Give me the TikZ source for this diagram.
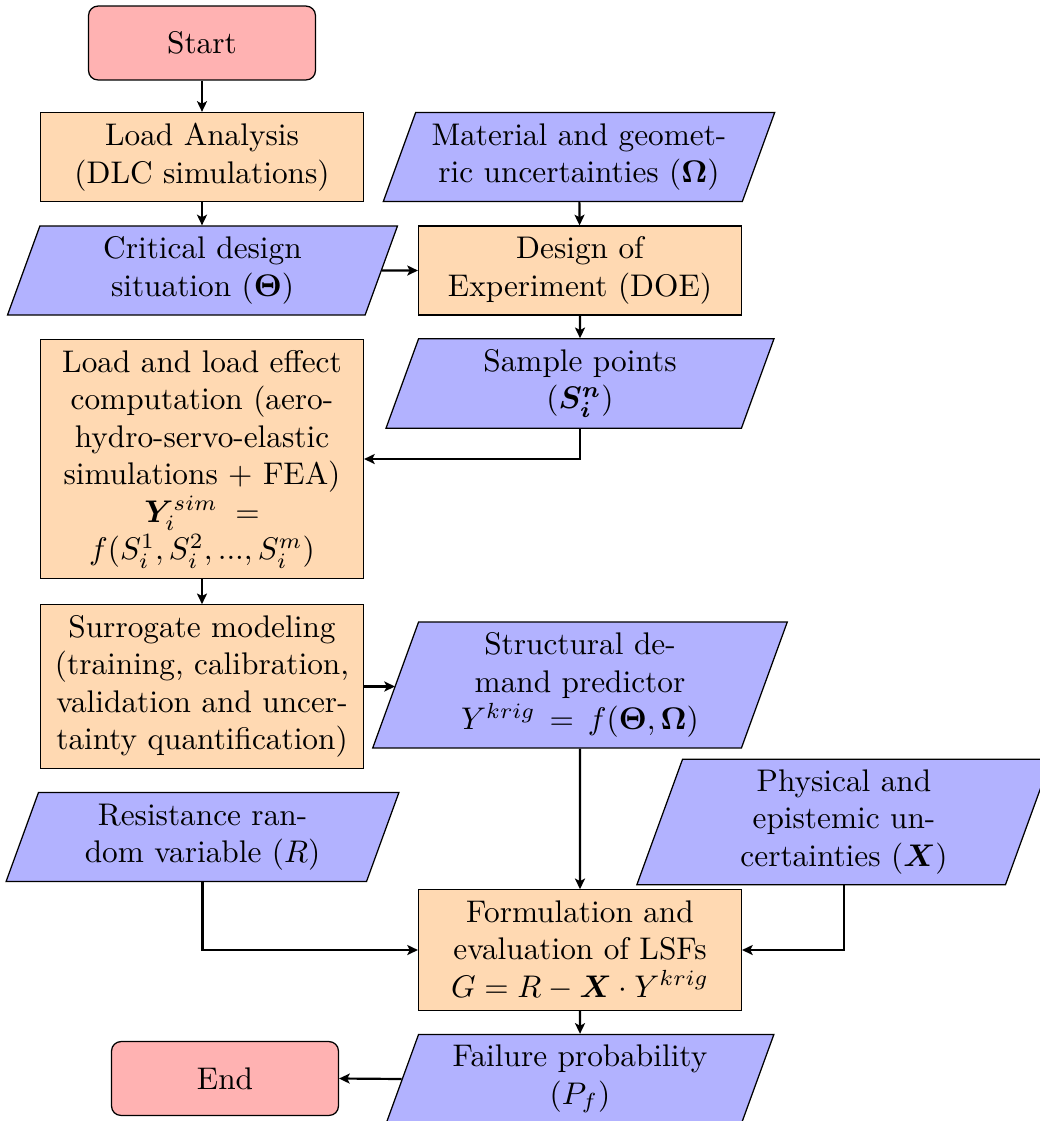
\documentclass[tikz,border=0pt]{standalone}
\usepackage{amsmath,bm}
\usetikzlibrary{shapes.geometric,arrows.meta}
\begin{document}
\begin{tikzpicture}[x=0.3195pt,y=-0.3195pt,
  startstop/.style={rectangle, rounded corners=3pt, minimum width=72.5pt, minimum height=23.6pt, align=center, draw=black, fill=red!30},
  process/.style={rectangle, minimum height=1cm, text width=96.5pt, align=center, draw=black, fill=orange!30},
  io/.style={trapezium, trapezium left angle=70, trapezium right angle=110, minimum height=1cm, text width=96.5pt, align=center, draw=black, fill=blue!30},
  arrow/.style={line width=0.7pt, -{Stealth[length=3.4pt,width=3.2pt,inset=0.8pt]}}]
\useasboundingbox (0,0) rectangle (1040,1121);
\clip (0,0) rectangle (1040,1121);

\node[startstop] (start) at (202,43) {Start};
\node[process] (load) at (202,157) {Load Analysis\\(DLC simulations)};
\node[io] (material) at (579,157) {Material and geomet-\\ric uncertainties ($\bm{\Omega}$)};
\node[io] (critical) at (202.5,270.5) {Critical design\\situation ($\bm{\Theta}$)};
\node[process] (doe) at (580,270.5) {Design of\\Experiment (DOE)};
\node[io] (sample) at (580,383.5) {Sample points\\($\bm{S_i^n}$)};
\node[process] (loadeffect) at (202,459) {Load and load effect\\computation (aero-\\hydro-servo-elastic\\simulations + FEA)\\\mbox{$\bm{Y}_i^{sim}\;=$}\\\mbox{$f(S_i^1,S_i^2,...,S_i^m)$}};
\node[process] (surrogate) at (202,686.5) {Surrogate modeling\\(training, calibration,\\validation and uncer-\\tainty quantification)};
\node[io] (structural) at (580,685) {Structural de-\\mand predictor\\\mbox{$Y^{krig}\,=\,f(\bm{\Theta},\bm{\Omega})$}};
\node[io] (physical) at (844,822) {Physical and\\epistemic un-\\certainties ($\bm{X}$)};
\node[io] (resistance) at (202.5,837) {Resistance ran-\\dom variable ($R$)};
\node[process] (formulation) at (580,950) {Formulation and\\evaluation of LSFs\\\mbox{$G=R-\bm{X}\cdot Y^{krig}$}};
\node[io] (failure) at (580,1079) {Failure probability\\($P_f$)};
\node[startstop] (end) at (225,1078.5) {End};

\draw[arrow] (start) -- (load);
\draw[arrow] (load) -- (load |- critical.north);
\draw[arrow] (material) -- (doe);
\draw[arrow] (critical.east) -- (doe.west);
\draw[arrow] (doe) -- (sample);
\draw[arrow] (sample.south) |- (loadeffect.east);
\draw[arrow] (loadeffect) -- (surrogate);
\draw[arrow] (surrogate.east) -- (surrogate.east -| structural.west);
\draw[arrow] (structural) -- (formulation);
\draw[arrow] (resistance.south) |- (formulation.west);
\draw[arrow] (physical.south) |- (formulation.east);
\draw[arrow] (formulation) -- (failure);
\draw[arrow] (failure.west) -- (end.east);
\end{tikzpicture}
\end{document}
